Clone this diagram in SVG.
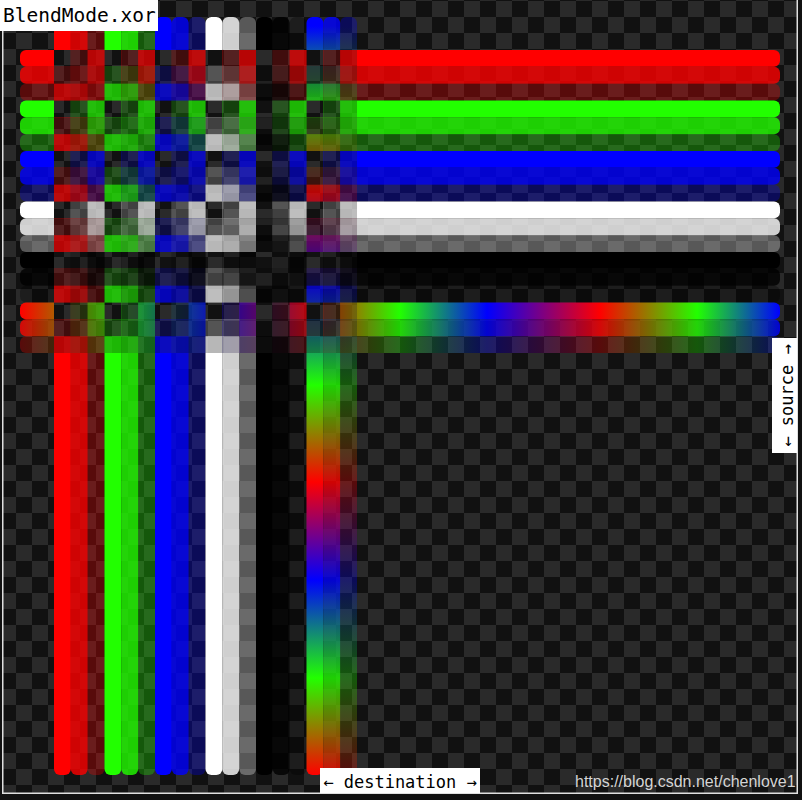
<svg xmlns="http://www.w3.org/2000/svg" xmlns:xlink="http://www.w3.org/1999/xlink" width="802" height="800" viewBox="0 0 802 800">
  <style>
    .mono { font-family: "DejaVu Sans Mono", "Liberation Mono", monospace; fill: #000; }
    .lbl { fill: #fff; }
    .frame { stroke: #e0e0e0; stroke-width: 1.5; fill: none; }
    .r { fill: #ff0000; }
    .g { fill: #22ff00; }
    .b { fill: #0000ff; }
    .w { fill: #ffffff; }
    .k { fill: #000000; }
    .gh { fill: url(#gradH); }
    .gv { fill: url(#gradV); }
  </style>
  <defs>
    <pattern id="checker" patternUnits="userSpaceOnUse" x="0" y="1" width="32" height="32">
      <rect width="32" height="32" fill="#111111"/>
      <rect x="16" y="0" width="16" height="16" fill="#2a2a2a"/>
      <rect x="0" y="16" width="16" height="16" fill="#2a2a2a"/>
    </pattern>
    <linearGradient id="gradH" gradientUnits="userSpaceOnUse" x1="20" y1="0" x2="780" y2="0">
      <stop offset="0" stop-color="#ff0000"/>
      <stop offset="0.1276" stop-color="#22ff00"/>
      <stop offset="0.254" stop-color="#0000ff"/>
      <stop offset="0.3816" stop-color="#ff0000"/>
      <stop offset="0.5" stop-color="#22ff00"/>
      <stop offset="0.6145" stop-color="#0000ff"/>
      <stop offset="0.763" stop-color="#ff0000"/>
      <stop offset="0.891" stop-color="#22ff00"/>
      <stop offset="1" stop-color="#0000ff"/>
    </linearGradient>
    <linearGradient id="gradV" gradientUnits="userSpaceOnUse" x1="0" y1="775" x2="0" y2="17">
      <stop offset="0" stop-color="#ff0000"/>
      <stop offset="0.128" stop-color="#22ff00"/>
      <stop offset="0.2573" stop-color="#0000ff"/>
      <stop offset="0.3865" stop-color="#ff0000"/>
      <stop offset="0.5145" stop-color="#22ff00"/>
      <stop offset="0.6425" stop-color="#0000ff"/>
      <stop offset="0.769" stop-color="#ff0000"/>
      <stop offset="0.884" stop-color="#22ff00"/>
      <stop offset="0.988" stop-color="#0000ff"/>
      <stop offset="1" stop-color="#0000ff"/>
    </linearGradient>
    <filter id="blacken" filterUnits="userSpaceOnUse" x="0" y="0" width="802" height="800" color-interpolation-filters="sRGB">
      <feColorMatrix type="matrix" values="0 0 0 0 0  0 0 0 0 0  0 0 0 0 0  0 0 0 1 0"/>
    </filter>
    <!-- source: horizontal bars -->
    <g id="src">
      <rect class="r" x="20" y="50" width="760" height="16.84" rx="6"/>
      <rect class="r" x="20" y="66.83" width="760" height="16.84" rx="6" fill-opacity="0.8"/>
      <rect class="r" x="20" y="83.67" width="760" height="16.84" rx="6" fill-opacity="0.3"/>
      <rect class="g" x="20" y="100.5" width="760" height="16.84" rx="6"/>
      <rect class="g" x="20" y="117.33" width="760" height="16.84" rx="6" fill-opacity="0.8"/>
      <rect class="g" x="20" y="134.17" width="760" height="16.84" rx="6" fill-opacity="0.3"/>
      <rect class="b" x="20" y="151" width="760" height="16.84" rx="6"/>
      <rect class="b" x="20" y="167.83" width="760" height="16.84" rx="6" fill-opacity="0.8"/>
      <rect class="b" x="20" y="184.67" width="760" height="16.84" rx="6" fill-opacity="0.3"/>
      <rect class="w" x="20" y="201.5" width="760" height="16.84" rx="6"/>
      <rect class="w" x="20" y="218.33" width="760" height="16.84" rx="6" fill-opacity="0.8"/>
      <rect class="w" x="20" y="235.17" width="760" height="16.84" rx="6" fill-opacity="0.3"/>
      <rect class="k" x="20" y="252" width="760" height="16.84" rx="6"/>
      <rect class="k" x="20" y="268.83" width="760" height="16.84" rx="6" fill-opacity="0.8"/>
      <rect class="k" x="20" y="285.67" width="760" height="16.84" rx="6" fill-opacity="0.3"/>
      <rect class="gh" x="20" y="302.5" width="760" height="16.84" rx="6"/>
      <rect class="gh" x="20" y="319.33" width="760" height="16.84" rx="6" fill-opacity="0.8"/>
      <rect class="gh" x="20" y="336.17" width="760" height="16.84" rx="6" fill-opacity="0.3"/>
    </g>
    <!-- destination: vertical bars -->
    <g id="dst">
      <rect class="r" x="54" y="17" width="16.84" height="758" rx="6"/>
      <rect class="r" x="70.83" y="17" width="16.84" height="758" rx="6" fill-opacity="0.8"/>
      <rect class="r" x="87.67" y="17" width="16.84" height="758" rx="6" fill-opacity="0.3"/>
      <rect class="g" x="104.5" y="17" width="16.84" height="758" rx="6"/>
      <rect class="g" x="121.33" y="17" width="16.84" height="758" rx="6" fill-opacity="0.8"/>
      <rect class="g" x="138.17" y="17" width="16.84" height="758" rx="6" fill-opacity="0.3"/>
      <rect class="b" x="155" y="17" width="16.84" height="758" rx="6"/>
      <rect class="b" x="171.83" y="17" width="16.84" height="758" rx="6" fill-opacity="0.8"/>
      <rect class="b" x="188.67" y="17" width="16.84" height="758" rx="6" fill-opacity="0.3"/>
      <rect class="w" x="205.5" y="17" width="16.84" height="758" rx="6"/>
      <rect class="w" x="222.33" y="17" width="16.84" height="758" rx="6" fill-opacity="0.8"/>
      <rect class="w" x="239.17" y="17" width="16.84" height="758" rx="6" fill-opacity="0.3"/>
      <rect class="k" x="256" y="17" width="16.84" height="758" rx="6"/>
      <rect class="k" x="272.83" y="17" width="16.84" height="758" rx="6" fill-opacity="0.8"/>
      <rect class="k" x="289.67" y="17" width="16.84" height="758" rx="6" fill-opacity="0.3"/>
      <rect class="gv" x="306.5" y="17" width="16.84" height="758" rx="6"/>
      <rect class="gv" x="323.33" y="17" width="16.84" height="758" rx="6" fill-opacity="0.8"/>
      <rect class="gv" x="340.17" y="17" width="16.84" height="758" rx="6" fill-opacity="0.3"/>
    </g>
    <mask id="notSrc" maskUnits="userSpaceOnUse" x="0" y="0" width="802" height="800">
      <rect width="802" height="800" fill="#fff"/>
      <use xlink:href="#src" href="#src" filter="url(#blacken)"/>
    </mask>
    <mask id="notDst" maskUnits="userSpaceOnUse" x="0" y="0" width="802" height="800">
      <rect width="802" height="800" fill="#fff"/>
      <use xlink:href="#dst" href="#dst" filter="url(#blacken)"/>
    </mask>
  </defs>

  <g id="background">
    <rect width="802" height="800" fill="#111111"/>
    <rect x="2" y="0" width="796" height="793" fill="url(#checker)"/>
  </g>

  <g id="xor-composite" style="isolation:isolate">
    <use id="destination-layer" xlink:href="#dst" href="#dst" mask="url(#notSrc)"/>
    <use id="source-layer" xlink:href="#src" href="#src" mask="url(#notDst)" style="mix-blend-mode:plus-lighter"/>
  </g>

  <g id="frame">
    <path class="frame" d="M2.75 31 V793.25 H797.25 V0"/>
  </g>

  <g id="title-label">
    <rect class="lbl" x="0" y="0" width="158" height="31"/>
    <text class="mono" x="3" y="22" font-size="19.5">BlendMode.xor</text>
  </g>

  <g id="destination-label">
    <rect class="lbl" x="320" y="768" width="160" height="25"/>
    <text class="mono" x="400" y="788" font-size="17" text-anchor="middle">← destination →</text>
  </g>

  <g id="source-label">
    <rect class="lbl" x="772" y="338" width="25" height="115"/>
    <text class="mono" transform="translate(792.5,395.5) rotate(-90)" font-size="17" text-anchor="middle">← source →</text>
  </g>

  <g id="watermark">
    <text x="575" y="787" font-family="'Liberation Sans', Arial, sans-serif" font-size="16" fill="#d4d4d4">https://blog.csdn.net/chenlove1</text>
  </g>
</svg>
